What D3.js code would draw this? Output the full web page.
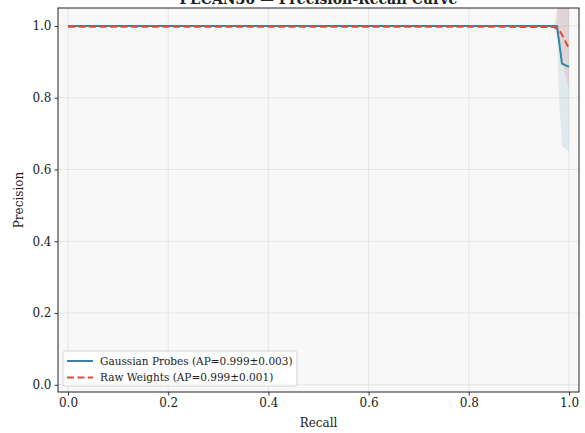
<!DOCTYPE html>
<html>
<head>
<meta charset="utf-8">
<script src="https://cdn.jsdelivr.net/npm/d3@7"></script>
<style>
  html, body { margin: 0; padding: 0; background: #fff; }
  svg { display: block; font-family: "DejaVu Serif", serif; }
</style>
</head>
<body>
<svg id="chart" width="585" height="433"></svg>
<script>
// Precision-recall curves, mean over folds with ±1 std band
const gaussRecall = [0, 0.25, 0.5, 0.75, 0.976, 0.980, 0.986, 1.0];
const gaussPrecision = [1.0, 1.0, 1.0, 1.0, 1.0, 0.960, 0.895, 0.886];
const gaussLower = [1.0, 1.0, 1.0, 1.0, 1.0, 0.80, 0.665, 0.650];
const gaussUpper = [1.0, 1.0, 1.0, 1.0, 1.0, 1.12, 1.12, 1.12];

const rawRecall = [0, 0.25, 0.5, 0.75, 0.970, 0.980, 0.990, 1.0];
const rawPrecision = [0.998, 0.998, 0.998, 0.998, 0.997, 0.990, 0.965, 0.937];
const rawLower = [0.998, 0.998, 0.998, 0.998, 0.995, 0.950, 0.880, 0.820];
const rawUpper = [0.998, 0.998, 0.998, 0.998, 1.00, 1.08, 1.08, 1.08];

const xTicks = [0.0, 0.2, 0.4, 0.6, 0.8, 1.0];
const yTicks = [0.0, 0.2, 0.4, 0.6, 0.8, 1.0];

const seriesNames = ["Gaussian Probes (AP=0.999±0.003)", "Raw Weights (AP=0.999±0.001)"];
const seriesColors = ["#2E86AB", "#E84A2F"];

const svg = d3.select("#chart");
const margin = { left: 58, right: 6, top: 8, bottom: 41 };
const W = 585, H = 433;
const iw = W - margin.left - margin.right;
const ih = H - margin.top - margin.bottom;

const x = d3.scaleLinear().domain([-0.02, 1.02]).range([0, iw]);
const y = d3.scaleLinear().domain([-0.02, 1.05]).range([ih, 0]);

const g = svg.append("g").attr("transform", `translate(${margin.left},${margin.top})`);

g.append("defs").append("clipPath").attr("id", "plot-clip")
  .append("rect").attr("width", iw).attr("height", ih);

g.append("rect").attr("width", iw).attr("height", ih).attr("fill", "#f8f8f8");

// grid
g.append("g").selectAll("line.gx").data(xTicks).join("line")
  .attr("x1", d => x(d)).attr("x2", d => x(d)).attr("y1", 0).attr("y2", ih)
  .attr("stroke", "#e3e3e3").attr("stroke-width", 0.9);
g.append("g").selectAll("line.gy").data(yTicks).join("line")
  .attr("y1", d => y(d)).attr("y2", d => y(d)).attr("x1", 0).attr("x2", iw)
  .attr("stroke", "#e3e3e3").attr("stroke-width", 0.9);

const plot = g.append("g").attr("clip-path", "url(#plot-clip)");

function band(rec, lo, hi) {
  return d3.area().x((d, i) => x(rec[i])).y0((d, i) => y(lo[i])).y1((d, i) => y(hi[i]))(rec);
}
function curve(rec, prec) {
  return d3.line().x((d, i) => x(rec[i])).y((d, i) => y(prec[i]))(rec);
}

plot.append("path").attr("d", band(gaussRecall, gaussLower, gaussUpper))
  .attr("fill", seriesColors[0]).attr("fill-opacity", 0.12);
plot.append("path").attr("d", band(rawRecall, rawLower, rawUpper))
  .attr("fill", seriesColors[1]).attr("fill-opacity", 0.12);

plot.append("path").attr("d", curve(gaussRecall, gaussPrecision))
  .attr("fill", "none").attr("stroke", seriesColors[0]).attr("stroke-width", 2)
  .attr("stroke-linejoin", "round");
plot.append("path").attr("d", curve(rawRecall, rawPrecision))
  .attr("fill", "none").attr("stroke", seriesColors[1]).attr("stroke-width", 2)
  .attr("stroke-dasharray", "7,3.5");

// frame
g.append("rect").attr("width", iw).attr("height", ih)
  .attr("fill", "none").attr("stroke", "#222").attr("stroke-width", 1);

// axes
const xAxis = g.append("g").attr("transform", `translate(0,${ih})`)
  .call(d3.axisBottom(x).tickValues(xTicks).tickFormat(d3.format(".1f")).tickSize(3.5).tickPadding(3));
const yAxis = g.append("g")
  .call(d3.axisLeft(y).tickValues(yTicks).tickFormat(d3.format(".1f")).tickSize(3.5).tickPadding(3));
[xAxis, yAxis].forEach(a => {
  a.select(".domain").remove();
  a.selectAll("line").attr("stroke", "#222").attr("stroke-width", 0.9);
  a.selectAll("text").attr("font-family", "DejaVu Serif, serif").attr("font-size", 12).attr("fill", "#222");
});

svg.append("text").attr("x", margin.left + iw / 2).attr("y", 427)
  .attr("text-anchor", "middle").attr("font-size", 12).attr("fill", "#222").text("Recall");
svg.append("text").attr("transform", `translate(23,${margin.top + ih / 2}) rotate(-90)`)
  .attr("text-anchor", "middle").attr("font-size", 12).attr("fill", "#222").text("Precision");

svg.append("text").attr("x", margin.left + iw / 2).attr("y", 4)
  .attr("text-anchor", "middle").attr("font-size", 14).attr("font-weight", "bold")
  .attr("fill", "#222").text("PECAN36 — Precision-Recall Curve");

// legend
const lg = g.append("g").attr("transform", `translate(5,${ih - 41})`);
lg.append("rect").attr("width", 234).attr("height", 35).attr("rx", 2)
  .attr("fill", "#ffffff").attr("fill-opacity", 0.85).attr("stroke", "#cccccc").attr("stroke-width", 0.8);
seriesNames.forEach((name, i) => {
  const yy = 10 + i * 16.5;
  lg.append("line").attr("x1", 4).attr("x2", 30).attr("y1", yy).attr("y2", yy)
    .attr("stroke", seriesColors[i]).attr("stroke-width", 2)
    .attr("stroke-dasharray", i === 1 ? "7,3.5" : null);
  lg.append("text").attr("x", 37).attr("y", yy + 3.8).attr("font-size", 10.5)
    .attr("fill", "#222").text(name);
});
</script>
</body>
</html>
